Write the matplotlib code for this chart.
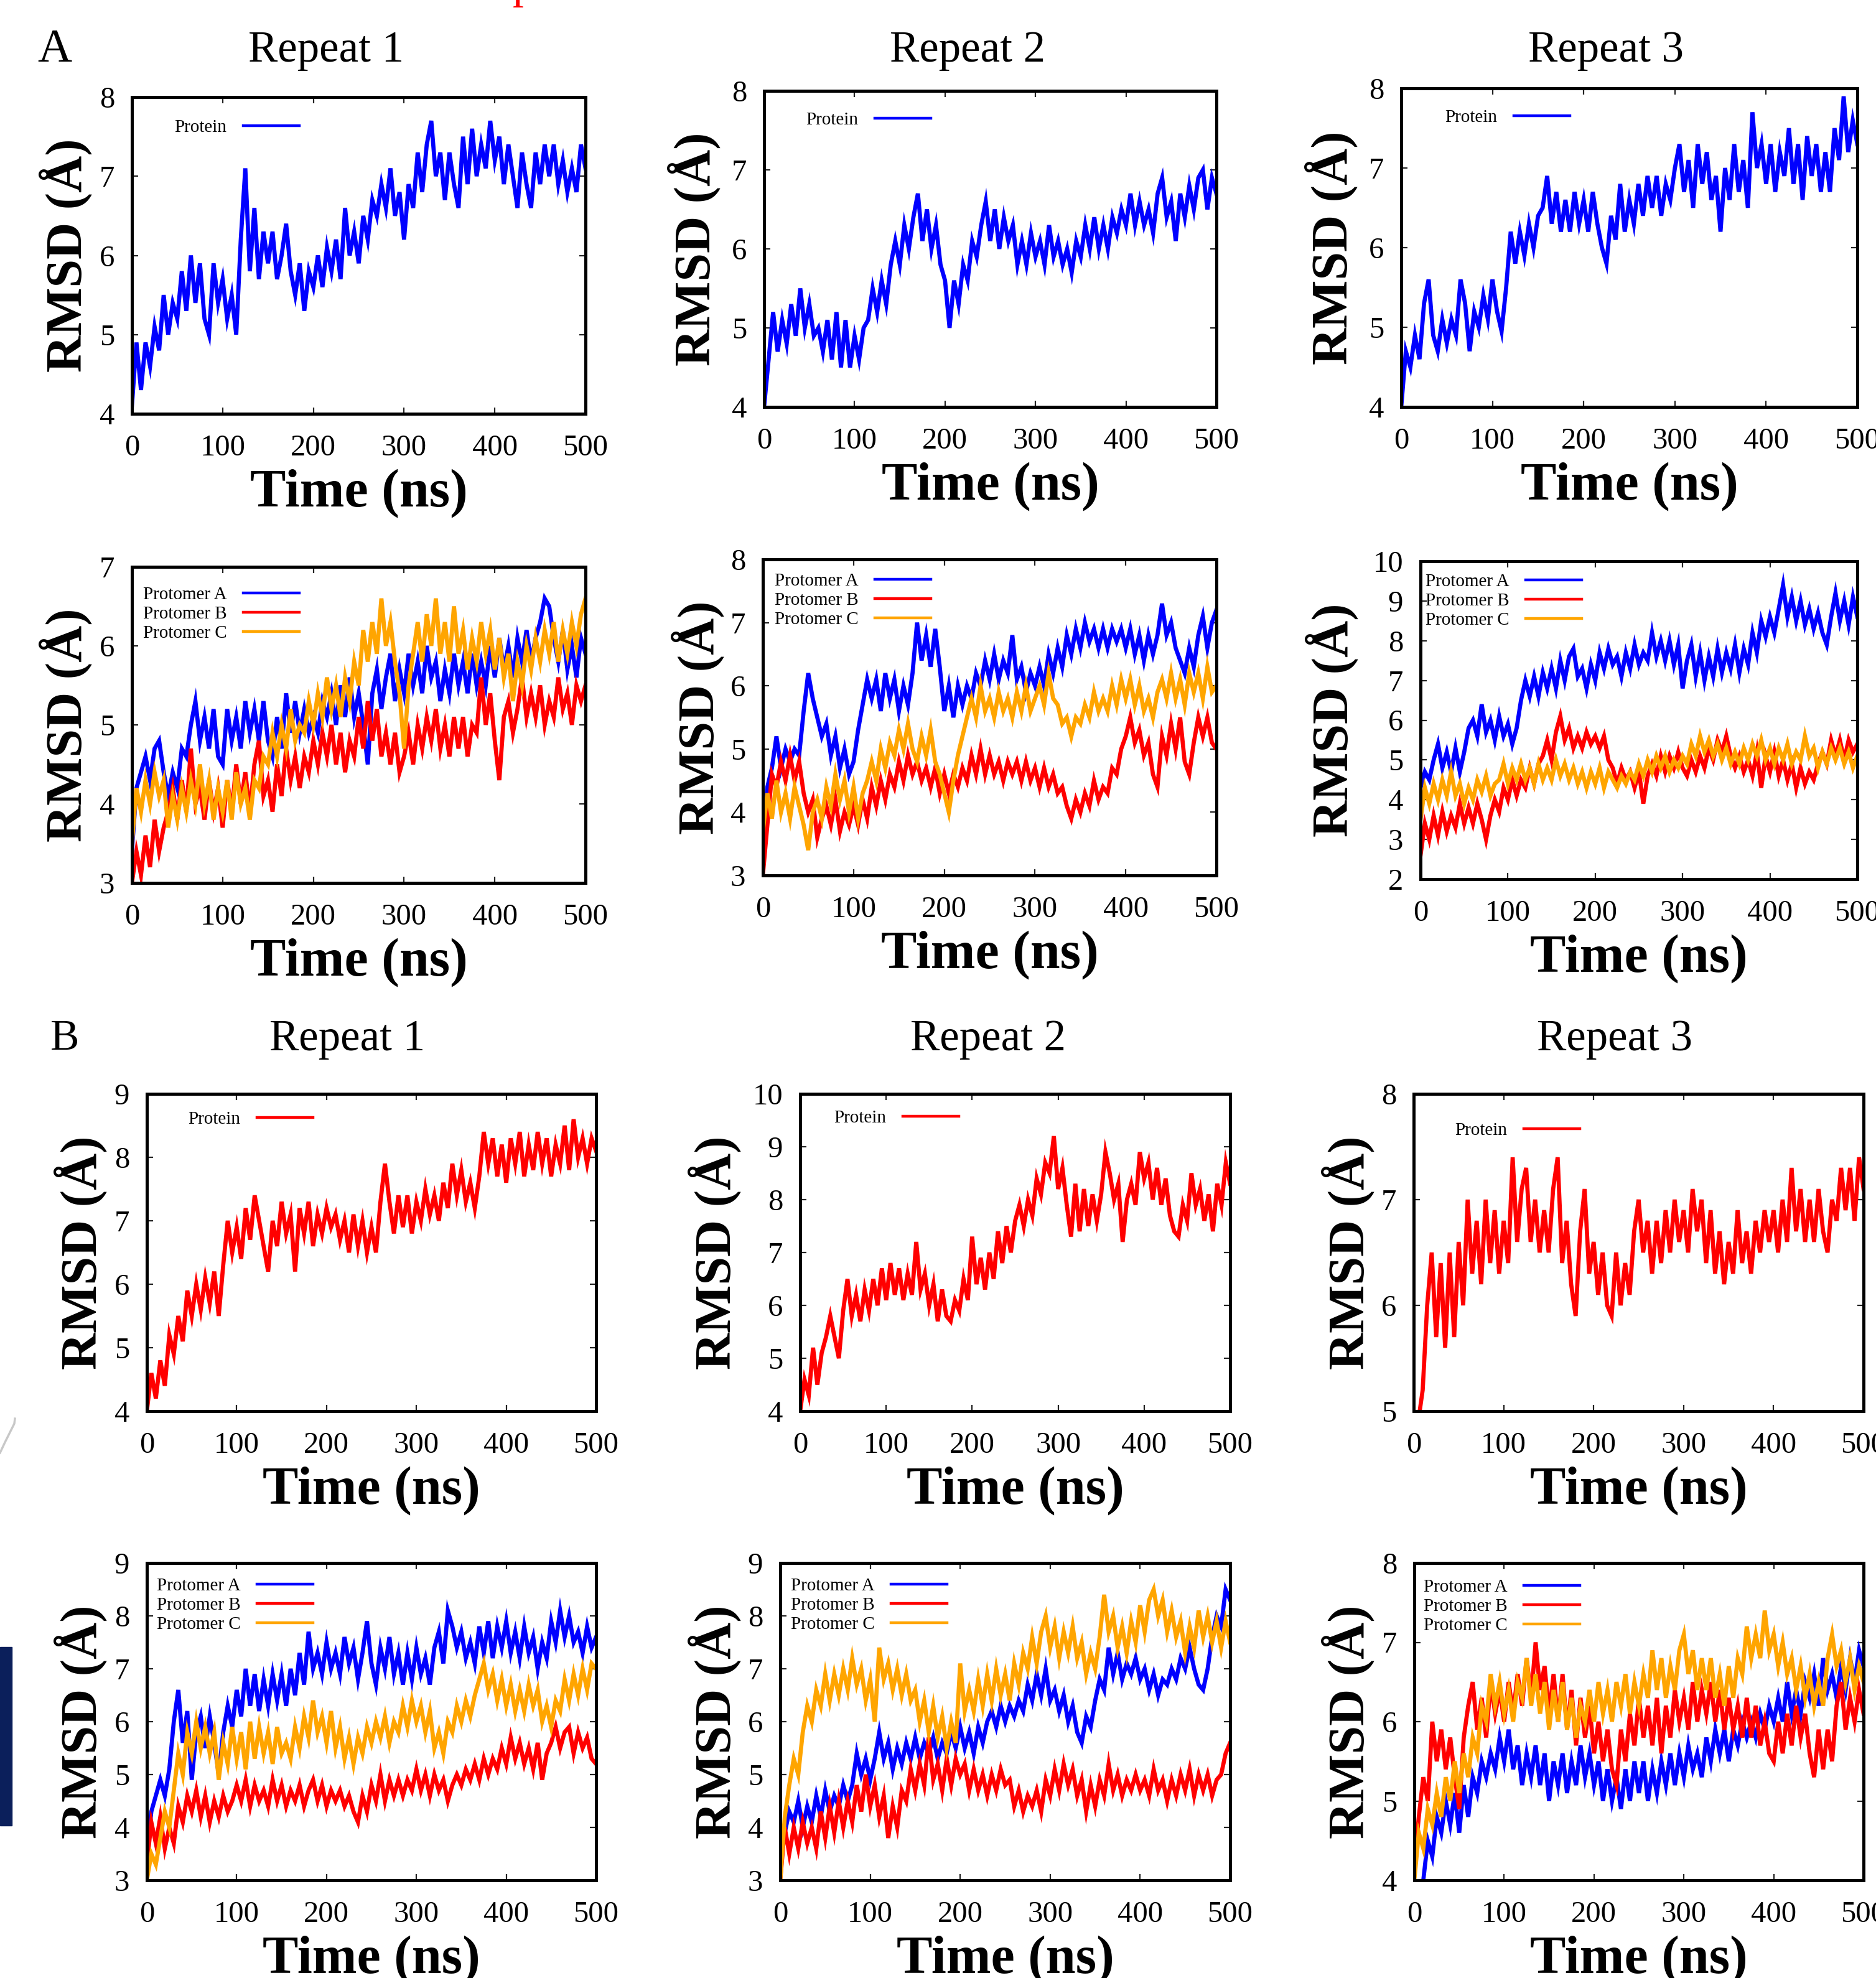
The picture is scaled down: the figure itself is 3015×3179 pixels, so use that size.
import numpy as np
import matplotlib
matplotlib.use("Agg")
import matplotlib.pyplot as plt
from matplotlib.lines import Line2D
from matplotlib.patches import Rectangle

plt.rcParams['font.family'] = ['Liberation Serif', 'DejaVu Serif']

# ---------------- data (RMSD in Angstrom, sampled every 5 ns) ----------------
time_ns = np.arange(0, 501, 5)
x_ticks = [0, 100, 200, 300, 400, 500]

# Complex A, repeat 1..3, whole protein
a_rep1_protein = [
    4.1, 4.9, 4.3, 4.9, 4.6, 5.1, 4.8, 5.5, 5.0, 5.4,
    5.2, 5.8, 5.3, 6.0, 5.4, 5.9, 5.2, 5.0, 5.9, 5.4,
    5.7, 5.2, 5.5, 5.0, 6.2, 7.1, 5.8, 6.6, 5.7, 6.3,
    5.9, 6.3, 5.7, 6.0, 6.4, 5.8, 5.5, 5.9, 5.3, 5.8,
    5.6, 6.0, 5.6, 6.1, 5.8, 6.2, 5.7, 6.6, 6.0, 6.3,
    5.9, 6.5, 6.2, 6.7, 6.5, 6.9, 6.6, 7.1, 6.5, 6.8,
    6.2, 6.9, 6.6, 7.3, 6.8, 7.4, 7.7, 7.0, 7.3, 6.7,
    7.3, 6.9, 6.6, 7.5, 6.9, 7.6, 7.0, 7.4, 7.1, 7.7,
    7.2, 7.5, 6.9, 7.4, 7.0, 6.6, 7.3, 6.9, 6.6, 7.3,
    6.9, 7.4, 7.0, 7.4, 6.9, 7.2, 6.8, 7.1, 6.8, 7.4,
    7.1]
a_rep2_protein = [
    4.0, 4.6, 5.2, 4.7, 5.1, 4.8, 5.3, 4.9, 5.5, 5.0,
    5.3, 4.9, 5.0, 4.7, 5.1, 4.6, 5.2, 4.5, 5.1, 4.5,
    4.9, 4.6, 5.0, 5.1, 5.5, 5.2, 5.6, 5.3, 5.8, 6.1,
    5.8, 6.3, 6.0, 6.4, 6.7, 6.1, 6.5, 6.0, 6.3, 5.8,
    5.6, 5.0, 5.6, 5.3, 5.8, 5.6, 6.1, 5.9, 6.3, 6.6,
    6.1, 6.5, 6.0, 6.4, 6.1, 6.3, 5.8, 6.1, 5.8, 6.2,
    5.9, 6.1, 5.8, 6.3, 5.9, 6.1, 5.8, 6.0, 5.7, 6.1,
    5.9, 6.3, 6.0, 6.4, 6.0, 6.3, 6.0, 6.4, 6.2, 6.5,
    6.3, 6.7, 6.3, 6.6, 6.3, 6.5, 6.2, 6.7, 6.9, 6.4,
    6.6, 6.1, 6.7, 6.4, 6.8, 6.5, 6.9, 7.0, 6.5, 6.9,
    6.7]
a_rep3_protein = [
    4.0, 4.7, 4.5, 4.9, 4.6, 5.3, 5.6, 4.9, 4.7, 5.1,
    4.8, 5.1, 4.9, 5.6, 5.3, 4.7, 5.2, 5.0, 5.4, 5.1,
    5.6, 5.2, 4.95, 5.5, 6.2, 5.8, 6.2, 5.9, 6.3, 6.0,
    6.4, 6.5, 6.9, 6.3, 6.7, 6.2, 6.6, 6.2, 6.7, 6.3,
    6.6, 6.2, 6.7, 6.3, 6.0, 5.8, 6.4, 6.1, 6.8, 6.2,
    6.6, 6.3, 6.8, 6.4, 6.9, 6.5, 6.9, 6.4, 6.8, 6.6,
    7.0, 7.3, 6.7, 7.1, 6.5, 7.3, 6.8, 7.2, 6.6, 6.9,
    6.2, 7.0, 6.6, 7.3, 6.7, 7.1, 6.5, 7.7, 7.0, 7.3,
    6.8, 7.3, 6.7, 7.2, 6.9, 7.5, 6.8, 7.3, 6.6, 7.4,
    6.9, 7.3, 6.7, 7.2, 6.7, 7.5, 7.1, 7.9, 7.2, 7.6,
    7.3]

# Complex A, repeat 1..3, protomers A/B/C
a_rep1_prot_a = [
    3.4, 4.2, 4.4, 4.6, 4.3, 4.7, 4.8, 4.4, 4.1, 4.4,
    4.2, 4.7, 4.6, 5.0, 5.3, 4.8, 5.1, 4.7, 5.2, 4.6,
    4.5, 5.2, 4.8, 5.1, 4.7, 5.3, 4.9, 5.2, 4.8, 5.3,
    4.8, 4.6, 5.1, 4.7, 5.4, 4.9, 5.3, 4.9, 5.2, 4.9,
    5.1, 4.9, 5.3, 5.1, 5.4, 5.0, 5.5, 5.1, 5.6, 5.1,
    5.4, 5.0, 4.5, 5.4, 5.7, 5.2, 5.6, 5.9, 5.3, 5.7,
    5.4, 5.9, 5.5, 5.8, 5.4, 6.0, 5.6, 5.8, 5.3, 5.7,
    5.4, 5.9, 5.5, 5.8, 5.4, 5.9, 5.5, 5.8, 5.5, 6.0,
    5.6, 6.1, 5.7, 6.0, 5.6, 6.1, 5.8, 6.2, 5.8, 6.1,
    6.3, 6.6, 6.5, 6.1, 5.8, 6.2, 5.7, 6.0, 5.6, 6.1,
    5.9]
a_rep1_prot_b = [
    3.0, 3.4, 3.1, 3.6, 3.2, 3.8, 3.4, 3.7, 3.9, 4.2,
    3.8, 4.3, 3.9, 4.7, 4.0, 4.2, 3.8, 4.3, 3.9, 4.2,
    3.7, 4.3, 3.9, 4.5, 4.0, 4.4, 3.9, 4.5, 4.8, 4.1,
    4.3, 3.9, 4.5, 4.1, 4.7, 4.3, 4.6, 4.2, 4.6, 4.4,
    4.8, 4.5, 4.9, 4.6, 5.0, 4.5, 4.9, 4.4, 4.8, 4.6,
    5.1, 4.7, 5.3, 4.8, 5.2, 4.6, 4.9, 4.5, 4.9, 4.4,
    4.6, 4.9, 4.5, 5.0, 4.7, 5.1, 4.8, 5.2, 4.7, 5.0,
    4.6, 5.1, 4.7, 5.1, 4.6, 5.0, 4.9, 5.6, 5.0, 5.4,
    4.8, 4.3, 5.1, 5.3, 4.9, 5.2, 5.6, 5.1, 5.4, 5.1,
    5.5, 5.0, 5.3, 5.1, 5.6, 5.2, 5.4, 5.0, 5.5, 5.3,
    5.5]
a_rep1_prot_c = [
    3.5, 4.2, 3.9, 4.3, 4.0, 4.4, 4.1, 4.3, 3.7, 4.1,
    3.8, 4.2, 3.9, 4.3, 4.0, 4.5, 4.0, 4.3, 3.8, 4.2,
    3.9, 4.3, 3.8, 4.4, 4.0, 4.2, 3.8, 4.3, 4.2, 4.6,
    4.5, 4.9, 4.6, 5.0, 4.7, 5.2, 4.8, 5.0, 4.9, 5.3,
    5.0, 5.4, 5.1, 5.6, 5.2, 5.5, 5.1, 5.6, 5.3, 5.8,
    5.5, 6.2, 5.8, 6.3, 5.9, 6.6, 6.0, 6.3, 5.8, 5.4,
    4.7, 5.5, 5.9, 6.3, 5.8, 6.4, 6.0, 6.6, 5.9, 6.3,
    5.8, 6.5, 5.9, 6.2, 5.7, 6.1, 5.8, 6.3, 5.9, 6.2,
    5.7, 6.1, 5.6, 5.9, 5.3, 5.8, 5.5, 6.0, 5.7, 6.1,
    5.8, 6.2, 5.9, 6.3, 5.8, 6.2, 5.9, 6.3, 6.0, 6.4,
    6.6]

a_rep2_prot_a = [
    3.6, 4.4, 4.7, 5.2, 4.7, 5.0, 4.8, 5.0, 4.9, 5.6,
    6.2, 5.8, 5.5, 5.2, 5.4, 4.9, 5.2, 4.7, 5.0, 4.6,
    4.8, 5.3, 5.7, 6.1, 5.8, 6.1, 5.6, 6.2, 5.8, 6.1,
    5.6, 6.0, 5.7, 6.2, 7.0, 6.4, 6.8, 6.3, 6.9, 6.3,
    5.6, 6.0, 5.5, 6.0, 5.7, 6.0, 5.8, 6.2, 6.0, 6.4,
    6.1, 6.5, 6.1, 6.4, 6.2, 6.8, 6.1, 6.3, 5.9, 6.2,
    6.0, 6.3, 6.0, 6.5, 6.2, 6.6, 6.3, 6.8, 6.5, 6.9,
    6.6, 7.0, 6.7, 6.9, 6.6, 6.9, 6.6, 6.9, 6.7, 6.9,
    6.6, 6.9, 6.5, 6.8, 6.4, 6.8, 6.5, 6.8, 7.3, 6.8,
    7.0, 6.6, 6.4, 6.2, 6.6, 6.3, 6.8, 7.1, 6.6, 7.0,
    7.2]
a_rep2_prot_b = [
    3.0, 3.8, 4.6, 4.4, 4.8, 4.5, 4.9, 4.5, 4.8, 4.3,
    4.0, 4.2, 3.6, 3.9, 4.1, 3.8, 4.2, 3.7, 4.0, 3.8,
    4.1, 3.8, 4.2, 3.9, 4.4, 4.1, 4.5, 4.2, 4.6, 4.4,
    4.8, 4.5, 4.9, 4.6, 4.8, 4.5, 4.7, 4.4, 4.7, 4.3,
    4.6, 4.3, 4.6, 4.4, 4.7, 4.5, 4.9, 4.6, 5.0, 4.6,
    4.9, 4.6, 4.8, 4.5, 4.8, 4.6, 4.8, 4.5, 4.8, 4.5,
    4.7, 4.4, 4.7, 4.4, 4.6, 4.3, 4.4, 4.1, 3.9, 4.2,
    4.0, 4.3, 4.1, 4.5, 4.2, 4.4, 4.3, 4.7, 4.6, 5.0,
    5.2, 5.5, 5.1, 5.3, 4.9, 5.1, 4.6, 4.4, 5.2, 4.9,
    5.4, 5.0, 5.5, 4.8, 4.6, 5.1, 5.5, 5.2, 5.5, 5.1,
    5.0]
a_rep2_prot_c = [
    3.7, 4.3, 3.9, 4.5, 4.0, 4.3, 3.9, 4.4, 4.1, 3.8,
    3.4, 4.0, 4.2, 3.9, 4.4, 4.1, 4.6, 4.2, 4.5, 4.0,
    4.4, 3.9, 4.3, 4.5, 4.8, 4.5, 5.0, 4.7, 5.1, 4.9,
    5.3, 5.0, 5.4, 5.0, 4.8, 5.2, 4.9, 5.3, 4.8, 4.6,
    4.3, 4.0, 4.5, 4.9, 5.2, 5.5, 5.8, 5.5, 6.0, 5.6,
    5.8, 5.5, 5.9, 5.6, 5.8, 5.5, 5.9, 5.6, 6.0, 5.6,
    5.8, 6.0, 5.7, 6.2, 5.8, 5.7, 5.4, 5.5, 5.2, 5.5,
    5.4, 5.7, 5.5, 5.9, 5.6, 5.8, 5.6, 6.0, 5.7, 6.1,
    5.8, 6.1, 5.7, 6.0, 5.6, 5.8, 5.5, 5.9, 6.1, 5.8,
    6.2, 5.8, 6.1, 5.7, 6.2, 5.9, 6.2, 5.8, 6.3, 5.9,
    6.0]

a_rep3_prot_a = [
    4.3, 4.7, 4.5, 5.0, 5.4, 4.8, 5.2, 4.7, 5.3, 4.7,
    5.2, 5.8, 6.0, 5.6, 6.4, 5.7, 6.0, 5.5, 6.1, 5.6,
    5.9, 5.4, 5.8, 6.5, 7.0, 6.6, 7.1, 6.6, 7.2, 6.8,
    7.3, 6.8, 7.5, 7.0, 7.6, 7.8, 7.1, 7.3, 6.8, 7.4,
    7.0, 7.7, 7.3, 7.8, 7.4, 7.6, 7.1, 7.7, 7.3, 7.9,
    7.4, 7.7, 7.5, 8.2, 7.6, 8.0, 7.5, 8.0, 7.4, 7.9,
    6.8, 7.5, 7.9, 7.1, 7.7, 7.0, 7.6, 7.1, 7.8, 7.2,
    7.7, 7.3, 7.9, 7.2, 7.8, 7.4, 8.2, 7.7, 8.5, 8.1,
    8.6, 8.2, 8.8, 9.4, 8.6, 9.1, 8.5, 9.0, 8.4, 8.8,
    8.3, 8.7, 8.2, 7.9, 8.6, 9.2, 8.5, 9.0, 8.4, 9.1,
    8.6]
a_rep3_prot_b = [
    2.6, 3.4, 3.0, 3.6, 3.1, 3.7, 3.2, 3.6, 3.3, 3.9,
    3.4, 3.8, 3.4, 3.9, 3.5, 3.0, 3.6, 4.0, 3.7, 4.3,
    4.0, 4.5, 4.1, 4.5, 4.3, 4.8, 4.4, 4.9, 5.1, 5.5,
    5.0, 5.7, 6.1, 5.5, 5.8, 5.3, 5.6, 5.3, 5.7, 5.4,
    5.6, 5.3, 5.6, 5.0, 4.8, 4.4, 4.8, 4.5, 4.7, 4.3,
    4.7, 3.9, 4.6, 4.9, 4.6, 5.1, 4.7, 5.1, 4.8, 5.2,
    4.8, 4.6, 5.0, 4.7, 5.1, 4.8, 5.3, 5.0, 5.5, 5.2,
    5.6, 5.1, 4.8, 5.1, 4.7, 5.0, 4.6, 5.2, 4.3, 5.1,
    4.7, 5.2, 4.6, 5.0, 4.5, 4.9, 4.3, 4.8, 4.4, 4.7,
    4.5, 4.9, 5.2, 4.9, 5.5, 5.1, 5.5, 5.0, 5.5, 5.2,
    5.4]
a_rep3_prot_c = [
    3.5, 4.3, 3.9, 4.4, 4.0, 4.5, 4.1, 4.7, 4.1, 4.4,
    3.9, 4.3, 4.0, 4.5, 4.2, 4.6, 4.1, 4.4, 4.5, 4.9,
    4.4, 4.8, 4.5, 4.9, 4.5, 4.8, 4.4, 4.9, 4.5, 4.8,
    4.5, 5.0, 4.6, 4.9, 4.5, 4.8, 4.4, 4.7, 4.3, 4.7,
    4.4, 4.8, 4.3, 4.7, 4.5, 4.3, 4.6, 4.4, 4.7, 4.5,
    4.9, 4.6, 5.0, 4.7, 5.1, 4.8, 5.1, 4.7, 5.0, 4.8,
    5.1, 4.9, 5.4, 5.1, 5.6, 5.2, 5.5, 5.1, 5.4, 5.0,
    5.3, 4.9, 5.2, 4.9, 5.3, 5.0, 5.4, 5.1, 5.5, 5.0,
    5.3, 4.9, 5.3, 5.0, 5.4, 4.9, 5.2, 5.0, 5.6, 5.1,
    5.3, 4.8, 5.2, 4.9, 5.3, 5.0, 5.3, 4.9, 5.2, 4.8,
    5.1]

# Complex B, repeat 1..3, whole protein
b_rep1_protein = [
    4.0, 4.6, 4.2, 4.8, 4.4, 5.2, 4.9, 5.5, 5.1, 5.9,
    5.5, 6.0, 5.6, 6.1, 5.7, 6.2, 5.5, 6.3, 7.0, 6.5,
    6.9, 6.4, 7.2, 6.7, 7.4, 7.0, 6.6, 6.2, 7.0, 6.6,
    7.3, 6.8, 7.1, 6.2, 7.2, 6.8, 7.3, 6.6, 7.1, 6.8,
    7.2, 6.9, 7.1, 6.7, 7.0, 6.5, 7.1, 6.6, 7.0, 6.5,
    6.9, 6.5, 7.3, 7.9, 7.3, 6.8, 7.4, 6.9, 7.4, 6.8,
    7.3, 7.0, 7.5, 7.1, 7.4, 7.0, 7.6, 7.2, 7.9, 7.4,
    7.8, 7.3, 7.6, 7.2, 7.7, 8.4, 7.9, 8.3, 7.7, 8.2,
    7.6, 8.3, 7.9, 8.4, 7.7, 8.2, 7.8, 8.4, 7.9, 8.3,
    7.7, 8.2, 7.9, 8.5, 7.8, 8.6, 8.0, 8.3, 7.9, 8.3,
    8.1]
b_rep2_protein = [
    4.0, 4.6, 4.3, 5.2, 4.5, 5.1, 5.4, 5.8, 5.4, 5.0,
    5.9, 6.5, 5.8, 6.2, 5.7, 6.3, 5.9, 6.5, 6.0, 6.7,
    6.1, 6.8, 6.2, 6.7, 6.1, 6.6, 6.2, 7.2, 6.3, 6.6,
    6.0, 6.4, 5.7, 6.3, 5.8, 5.7, 6.1, 5.9, 6.5, 6.1,
    7.3, 6.4, 6.9, 6.3, 7.0, 6.5, 7.4, 6.8, 7.5, 7.0,
    7.6, 7.9, 7.5, 8.0, 7.7, 8.4, 8.1, 8.7, 8.5, 9.2,
    8.2, 8.6, 7.9, 7.3, 8.3, 7.4, 8.2, 7.5, 8.1, 7.6,
    8.1, 8.9, 8.5, 8.0, 8.3, 7.2, 8.0, 8.3, 7.9, 8.9,
    8.4, 8.7, 8.0, 8.6, 7.9, 8.4, 7.7, 7.4, 7.3, 7.9,
    7.6, 8.5, 7.9, 8.2, 7.6, 8.1, 7.4, 8.3, 7.9, 8.7,
    8.3]
b_rep3_protein = [
    4.8, 4.9, 5.2, 6.0, 6.5, 5.7, 6.4, 5.6, 6.5, 5.7,
    6.6, 6.0, 7.0, 6.3, 6.8, 6.2, 7.0, 6.4, 6.9, 6.3,
    6.8, 6.4, 7.4, 6.6, 7.1, 7.3, 6.6, 7.0, 6.5, 6.9,
    6.5, 7.1, 7.4, 6.4, 6.8, 6.2, 5.9, 6.7, 7.1, 6.3,
    6.6, 6.1, 6.5, 6.0, 5.9, 6.5, 6.0, 6.4, 6.1, 6.7,
    7.0, 6.5, 6.8, 6.3, 6.8, 6.4, 6.9, 6.5, 7.0, 6.6,
    6.9, 6.5, 7.1, 6.7, 7.0, 6.4, 6.9, 6.3, 6.7, 6.2,
    6.6, 6.3, 6.9, 6.4, 6.7, 6.3, 6.8, 6.5, 6.9, 6.6,
    6.9, 6.5, 7.0, 6.6, 7.3, 6.7, 7.1, 6.6, 7.0, 6.6,
    7.1, 6.7, 6.5, 7.0, 6.8, 7.3, 6.9, 7.3, 6.8, 7.4,
    7.1]

# Complex B, repeat 1..3, protomers A/B/C
b_rep1_prot_a = [
    3.5, 4.3, 4.6, 4.9, 4.6, 5.1, 6.0, 6.6, 5.6, 6.2,
    4.9, 5.8, 6.1, 5.5, 6.1, 5.6, 5.0, 5.8, 6.3, 5.9,
    6.6, 6.1, 7.0, 6.3, 6.9, 6.2, 6.8, 6.3, 6.9, 6.4,
    6.9, 6.3, 7.0, 6.5, 7.3, 6.7, 7.7, 7.0, 7.3, 6.9,
    7.5, 7.0, 7.3, 6.9, 7.6, 7.1, 7.4, 6.8, 7.3, 7.9,
    7.1, 6.7, 7.4, 7.0, 7.6, 6.9, 7.3, 6.7, 7.3, 6.8,
    7.4, 6.9, 7.2, 6.7, 7.4, 7.7, 7.1, 8.1, 7.8, 7.4,
    7.7, 7.2, 7.5, 7.1, 7.8, 7.3, 7.9, 7.2, 7.8, 7.4,
    7.9, 7.3, 7.7, 7.2, 7.8, 7.3, 7.6, 7.0, 7.5, 7.2,
    7.9, 7.5, 8.1, 7.6, 8.0, 7.5, 7.7, 7.3, 7.8, 7.4,
    7.6]
b_rep1_prot_b = [
    3.3, 4.1, 3.7, 4.2, 3.6, 4.0, 3.7, 4.4, 4.1, 4.6,
    4.3, 4.7, 4.2, 4.6, 4.1, 4.5, 4.2, 4.6, 4.3, 4.5,
    4.8, 4.5, 4.9, 4.4, 4.8, 4.5, 4.7, 4.4, 4.9, 4.5,
    4.8, 4.4, 4.7, 4.5, 4.8, 4.4, 4.7, 4.9, 4.5, 4.8,
    4.4, 4.7, 4.5, 4.7, 4.4, 4.6, 4.3, 4.1, 4.6, 4.3,
    4.8, 4.5, 5.0, 4.5, 4.9, 4.6, 4.9, 4.6, 4.9, 4.7,
    5.1, 4.7, 5.0, 4.6, 5.0, 4.7, 4.9, 4.5, 4.8, 5.0,
    4.8, 5.1, 4.9, 5.2, 4.9, 5.3, 5.0, 5.3, 5.1, 5.5,
    5.2, 5.7, 5.3, 5.6, 5.2, 5.5, 5.1, 5.6, 4.9, 5.4,
    5.6, 5.9, 5.5, 5.8, 5.9, 5.4, 5.8, 5.5, 5.7, 5.3,
    5.2]
b_rep1_prot_c = [
    3.0, 3.5, 3.3, 3.8, 4.3, 4.0, 4.7, 5.4, 5.0, 5.8,
    5.4, 6.0, 5.5, 5.9, 5.4, 5.8, 4.9, 5.6, 5.2, 5.9,
    5.3, 5.8, 5.1, 6.0, 5.3, 5.9, 5.4, 5.8, 5.2, 5.9,
    5.4, 5.6, 5.3, 5.9, 5.5, 6.1, 5.7, 6.4, 5.8, 6.1,
    5.6, 6.2, 5.5, 5.9, 5.3, 5.7, 5.2, 5.7, 5.4, 5.9,
    5.6, 6.0, 5.7, 6.1, 5.6, 6.0, 5.8, 6.3, 5.9, 6.4,
    6.0, 6.3, 5.8, 6.2, 5.5, 5.8, 5.4, 6.0, 5.8, 6.3,
    6.0, 6.4, 6.1, 6.5, 6.8, 7.1, 6.6, 6.9, 6.4, 6.8,
    6.3, 6.7, 6.2, 6.6, 6.2, 6.7, 6.3, 6.6, 6.0, 6.3,
    5.9, 6.4, 6.2, 6.8, 6.4, 6.9, 6.5, 7.0, 6.6, 7.1,
    7.0]

b_rep2_prot_a = [
    3.3, 3.9, 4.3, 4.1, 4.5, 4.0, 4.4, 4.1, 4.6, 4.2,
    4.7, 4.3, 4.6, 4.4, 4.8, 4.5, 4.8, 5.4, 5.0, 5.3,
    4.9, 5.3, 5.8, 5.3, 5.6, 5.1, 5.5, 5.2, 5.6, 5.3,
    5.7, 5.3, 5.6, 5.4, 5.7, 5.3, 5.6, 5.4, 5.8, 5.5,
    5.9, 5.5, 5.8, 5.4, 5.9, 5.6, 6.0, 6.2, 5.9, 6.3,
    6.0, 6.3, 6.1, 6.4, 6.2, 6.7, 6.4, 6.9, 6.5, 7.0,
    6.4, 6.6, 6.2, 6.5, 6.0, 6.3, 5.8, 5.6, 6.1, 5.9,
    6.4, 6.8, 6.6, 7.4, 6.9, 7.3, 6.8, 7.1, 6.9, 7.2,
    6.8, 7.0, 6.6, 6.9, 6.5, 6.8, 6.7, 7.0, 6.8, 7.2,
    7.0, 7.4, 7.0, 6.7, 6.6, 7.0, 7.6, 8.0, 7.8, 8.5,
    8.3]
b_rep2_prot_b = [
    3.0, 4.0, 3.5, 4.0, 3.6, 4.1, 3.7, 4.0, 3.6, 4.3,
    3.8, 4.4, 3.9, 4.5, 4.0, 4.5, 4.1, 4.8, 4.3, 5.0,
    4.4, 4.8, 4.2, 4.6, 3.8, 4.4, 4.0, 4.7, 4.5, 5.1,
    4.7, 5.2, 4.8, 5.7, 4.9, 5.2, 4.7, 5.3, 4.8, 5.3,
    5.0, 5.2, 4.7, 5.1, 4.7, 5.0, 4.6, 5.0, 4.7, 5.1,
    4.8, 4.9, 4.4, 4.7, 4.3, 4.6, 4.4, 4.7, 4.3, 4.9,
    4.6, 5.1, 4.7, 5.2, 4.8, 5.1, 4.6, 4.9, 4.3, 4.8,
    4.4, 4.9, 4.6, 5.2, 4.7, 5.0, 4.6, 4.9, 4.7, 5.0,
    4.7, 4.9, 4.6, 5.1, 4.7, 4.9, 4.5, 4.9, 4.6, 5.0,
    4.7, 5.1, 4.6, 5.0, 4.7, 5.0, 4.6, 4.9, 5.0, 5.4,
    5.6]
b_rep2_prot_c = [
    3.0, 4.2, 4.8, 5.3, 5.0, 5.8, 6.3, 6.0, 6.6, 6.3,
    6.9, 6.4, 6.9, 6.5, 7.0, 6.6, 7.2, 6.7, 7.0, 6.4,
    6.8, 6.0, 7.4, 6.8, 7.1, 6.6, 7.0, 6.5, 6.9, 6.4,
    6.6, 6.0, 6.4, 5.8, 6.3, 5.7, 6.1, 5.5, 6.0, 5.6,
    7.1, 6.2, 6.6, 6.2, 6.8, 6.3, 6.9, 6.4, 7.0, 6.5,
    6.9, 6.4, 7.1, 6.7, 7.3, 7.0, 7.6, 7.1, 7.7, 8.0,
    7.4, 7.8, 7.2, 7.7, 7.3, 7.8, 7.2, 7.5, 6.9, 7.3,
    7.0, 7.6, 8.4, 7.7, 8.0, 7.4, 7.8, 7.3, 7.9, 7.5,
    8.2, 7.7, 8.3, 8.5, 8.0, 8.3, 7.7, 8.1, 7.6, 7.9,
    7.3, 7.8, 7.4, 8.1, 7.6, 8.0, 7.5, 7.9, 7.4, 7.9,
    7.5]

b_rep3_prot_a = [
    3.9, 3.9, 4.0, 4.5, 4.3, 4.8, 4.6, 5.0, 4.7, 5.1,
    4.6, 5.2, 4.8, 5.3, 5.1, 5.5, 5.3, 5.6, 5.4, 5.8,
    5.5, 5.9, 5.4, 5.7, 5.2, 5.6, 5.3, 5.7, 5.2, 5.6,
    5.0, 5.5, 5.2, 5.6, 5.1, 5.5, 5.2, 5.7, 5.3, 5.6,
    5.2, 5.5, 5.0, 5.4, 5.0, 5.3, 4.9, 5.4, 5.0, 5.5,
    5.1, 5.5, 5.0, 5.4, 5.1, 5.5, 5.2, 5.6, 5.2, 5.6,
    5.3, 5.7, 5.4, 5.6, 5.3, 5.8, 5.5, 5.9, 5.6, 5.9,
    5.5, 5.9, 5.7, 6.0, 5.8, 6.0, 5.8, 6.1, 5.9, 6.2,
    6.0, 6.3, 6.0, 6.5, 6.1, 6.4, 6.1, 6.5, 6.3, 6.6,
    6.2, 6.8, 6.4, 6.6, 6.3, 6.7, 6.4, 6.8, 6.5, 6.9,
    6.7]
b_rep3_prot_b = [
    4.2, 4.8, 5.3, 5.0, 6.0, 5.5, 5.9, 5.4, 5.8, 5.3,
    4.9, 5.8, 6.2, 6.5, 5.9, 6.3, 5.8, 6.5, 6.1, 6.4,
    6.0, 6.5, 6.1, 6.6, 6.2, 6.8, 6.3, 7.0, 6.4, 6.7,
    6.1, 6.6, 6.0, 6.6, 5.9, 6.4, 5.7, 6.3, 5.8, 6.2,
    5.6, 6.0, 5.5, 5.9, 5.4, 5.2, 5.9, 5.5, 6.1, 5.7,
    6.3, 5.8, 6.2, 5.7, 6.3, 5.6, 6.2, 5.8, 6.4, 6.0,
    6.3, 5.9, 6.5, 6.0, 6.4, 6.1, 6.5, 6.0, 6.4, 5.9,
    6.3, 5.9, 6.2, 5.8, 6.3, 5.8, 6.2, 5.7, 6.0, 5.6,
    5.5, 6.0, 5.6, 6.1, 5.7, 6.2, 5.8, 6.1, 5.6, 5.3,
    5.9, 5.4, 5.9, 5.5, 6.2, 6.5, 5.9, 6.3, 6.0, 6.4,
    6.1]
b_rep3_prot_c = [
    4.0, 4.6, 4.4, 4.9, 4.7, 5.1, 4.8, 5.3, 5.0, 5.5,
    5.1, 5.6, 5.3, 5.8, 5.6, 6.2, 6.0, 6.6, 6.2, 6.5,
    6.1, 6.4, 6.0, 6.5, 6.3, 6.8, 6.2, 6.6, 6.1, 6.5,
    5.9, 6.4, 6.0, 6.5, 5.9, 6.3, 5.8, 6.2, 6.0, 6.4,
    6.0, 6.5, 6.1, 6.4, 6.0, 6.5, 6.2, 6.6, 6.1, 6.5,
    6.2, 6.6, 6.3, 6.9, 6.4, 6.8, 6.3, 6.7, 6.4, 6.9,
    7.1, 6.6, 6.9, 6.4, 6.8, 6.4, 6.8, 6.3, 6.6, 6.2,
    6.7, 6.3, 6.8, 6.6, 7.2, 6.8, 7.1, 6.8, 7.4, 6.9,
    7.1, 6.7, 7.0, 6.6, 6.8, 6.4, 6.7, 6.3, 6.6, 6.2,
    6.5, 6.2, 6.8, 7.1, 6.7, 6.9, 6.5, 6.8, 6.4, 6.7,
    6.5]

# ---------------- styling / layout ----------------
BLUE, RED, ORANGE = '#0000ff', '#ff0000', '#ffa500'
W, H = 3015, 3179
DPI = 100
fig = plt.figure(figsize=(W / DPI, H / DPI), dpi=DPI)
fig.patch.set_facecolor('white')


def fx(x):
    return x / W


def fy(y):
    return 1 - y / H


def add_panel(box, ylim, series, leg_right, leg_dy, ylab_off):
    l, t, r, b = box
    wpx, hpx = r - l, b - t
    ax = fig.add_axes([fx(l), fy(b), wpx / W, hpx / H])
    for name, vals, col in series:
        ax.plot(time_ns, vals, color=col, lw=4.8, solid_joinstyle='miter')
    ax.set_xlim(0, 500)
    ax.set_ylim(*ylim)
    ax.set_xticks(x_ticks)
    ax.set_yticks(np.arange(ylim[0], ylim[1] + 1))
    ax.tick_params(direction='in', top=True, right=True, length=7, width=1.6,
                   labelsize=35, color='#222222')
    ax.tick_params(axis='x', pad=24)
    ax.tick_params(axis='y', pad=20)
    for s in ax.spines.values():
        s.set_linewidth(3.6)
        s.set_zorder(5)
    ax.set_xlabel('Time (ns)', fontsize=62, fontweight='bold', va='baseline')
    ax.xaxis.set_label_coords(0.5, -148 / hpx)
    ax.set_ylabel('RMSD (Å)', fontsize=59, fontweight='bold', va='baseline')
    ax.yaxis.set_label_coords(-ylab_off / wpx, 0.5)
    handles = [Line2D([], [], color=c, lw=3.2) for _, _, c in series]
    labels = [n for n, _, _ in series]
    ax.legend(handles, labels, loc='upper right',
              bbox_to_anchor=(leg_right / wpx, 1 - (leg_dy - 15) / hpx),
              frameon=False, markerfirst=False, fontsize=21,
              handlelength=3.1, handletextpad=0.9, borderpad=0,
              borderaxespad=0, labelspacing=0.15)
    return ax


prot = 'Protein'
pa, pb, pc = 'Protomer A', 'Protomer B', 'Protomer C'

add_panel((212, 156, 941, 665), (4, 8), [(prot, a_rep1_protein, BLUE)], 269, 51, 82)
add_panel((1228, 146, 1955, 654), (4, 8), [(prot, a_rep2_protein, BLUE)], 268, 49, 88)
add_panel((2252, 142, 2985, 654), (4, 8), [(prot, a_rep3_protein, BLUE)], 271, 49, 88)

add_panel((212, 911, 941, 1419), (3, 7),
          [(pa, a_rep1_prot_a, BLUE), (pb, a_rep1_prot_b, RED), (pc, a_rep1_prot_c, ORANGE)], 269, 47, 82)
add_panel((1226, 899, 1955, 1407), (3, 8),
          [(pa, a_rep2_prot_a, BLUE), (pb, a_rep2_prot_b, RED), (pc, a_rep2_prot_c, ORANGE)], 270, 37, 80)
add_panel((2283, 902, 2985, 1413), (2, 10),
          [(pa, a_rep3_prot_a, BLUE), (pb, a_rep3_prot_b, RED), (pc, a_rep3_prot_c, ORANGE)], 259, 35, 118)

add_panel((236, 1758, 958, 2268), (4, 9), [(prot, b_rep1_protein, RED)], 267, 43, 82)
add_panel((1286, 1758, 1977, 2268), (4, 10), [(prot, b_rep2_protein, RED)], 255, 41, 113)
add_panel((2272, 1758, 2995, 2268), (5, 8), [(prot, b_rep3_protein, RED)], 267, 61, 81)

add_panel((236, 2512, 958, 3022), (3, 9),
          [(pa, b_rep1_prot_a, BLUE), (pb, b_rep1_prot_b, RED), (pc, b_rep1_prot_c, ORANGE)], 267, 39, 82)
add_panel((1254, 2512, 1977, 3022), (3, 9),
          [(pa, b_rep2_prot_a, BLUE), (pb, b_rep2_prot_b, RED), (pc, b_rep2_prot_c, ORANGE)], 268, 39, 81)
add_panel((2273, 2512, 2995, 3022), (4, 8),
          [(pa, b_rep3_prot_a, BLUE), (pb, b_rep3_prot_b, RED), (pc, b_rep3_prot_c, ORANGE)], 266, 41, 82)

# titles and panel letters
for x, txt in [(524, 'Repeat 1'), (1555, 'Repeat 2'), (2581, 'Repeat 3')]:
    fig.text(fx(x), fy(99), txt, fontsize=51, ha='center', va='baseline')
for x, txt in [(558, 'Repeat 1'), (1588, 'Repeat 2'), (2595, 'Repeat 3')]:
    fig.text(fx(x), fy(1688), txt, fontsize=51, ha='center', va='baseline')
fig.text(fx(88), fy(99), 'A', fontsize=55, ha='center', va='baseline')
fig.text(fx(104), fy(1687), 'B', fontsize=50, ha='center', va='baseline')

# cropped remnants at the page edges
fig.text(fx(842), fy(-3), 'p', fontsize=52, color='red', ha='center', va='baseline')
fig.patches.append(Rectangle((0, fy(2934)), fx(19), (2934 - 2647) / H,
                             transform=fig.transFigure, color='#0b1f5b', zorder=0))
fig.lines.append(Line2D([fx(0), fx(8), fx(17), fx(23), fx(24)],
                        [fy(2335), fy(2318), fy(2300), fy(2288), fy(2280)],
                        transform=fig.transFigure, color='#c8c8c8', lw=2.5))

fig.savefig('out.png', dpi=DPI)
